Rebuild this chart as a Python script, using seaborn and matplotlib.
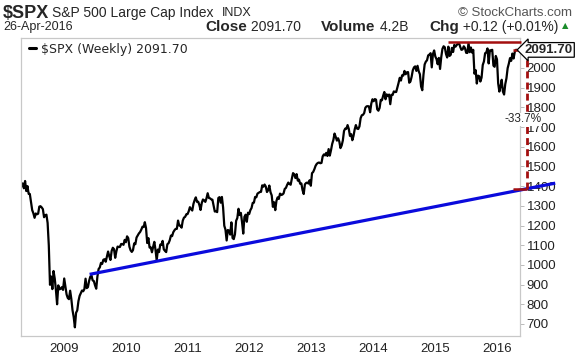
import pandas as pd
import seaborn as sns
import matplotlib.pyplot as plt
import matplotlib.dates as mdates
import matplotlib.transforms as mtransforms

# -----------------------------
# Data: $SPX weekly closes, Apr-2008 .. 26-Apr-2016
# -----------------------------
spx_2008 = [1398, 1414, 1389, 1426, 1375, 1400, 1361, 1360, 1318, 1278, 1262, 1239,
            1261, 1257, 1260, 1296, 1298, 1292, 1283, 1242, 1252, 1255, 1213, 1099,
            899, 941, 877, 969, 931, 873, 800, 896, 876, 879, 887, 873]
spx_2009 = [931, 890, 850, 832, 826, 869, 827, 770, 735, 683, 757, 769, 816, 843,
            857, 870, 866, 877, 930, 882, 887, 919, 940, 946, 921, 918, 896, 879,
            941, 979, 987, 1010, 1005, 1026, 1029, 1016, 1042, 1068, 1044, 1025,
            1071, 1087, 1080, 1036, 1069, 1093, 1091, 1091, 1106, 1106, 1102, 1127]
spx_2010 = [1115, 1145, 1136, 1092, 1074, 1066, 1075, 1109, 1105, 1139, 1150, 1160,
            1167, 1179, 1194, 1192, 1217, 1187, 1111, 1136, 1088, 1089, 1064, 1092,
            1117, 1076, 1022, 1078, 1065, 1103, 1102, 1122, 1079, 1071, 1065, 1105,
            1110, 1125, 1149, 1146, 1166, 1176, 1183, 1183, 1225, 1200, 1199, 1189,
            1225, 1240, 1244, 1257, 1258]
spx_2011 = [1272, 1293, 1283, 1276, 1310, 1329, 1343, 1320, 1321, 1304, 1279, 1314,
            1332, 1328, 1320, 1338, 1364, 1340, 1338, 1333, 1331, 1300, 1271, 1272,
            1268, 1340, 1344, 1316, 1345, 1292, 1199, 1179, 1124, 1177, 1174, 1154,
            1216, 1136, 1131, 1155, 1224, 1238, 1285, 1253, 1264, 1216, 1159, 1244,
            1255, 1219, 1265, 1258]
spx_2012 = [1278, 1289, 1315, 1316, 1345, 1343, 1362, 1366, 1370, 1371, 1404, 1397,
            1408, 1398, 1370, 1379, 1403, 1369, 1353, 1295, 1318, 1278, 1325, 1343,
            1335, 1362, 1355, 1357, 1363, 1386, 1391, 1406, 1418, 1411, 1407, 1438,
            1466, 1460, 1441, 1461, 1428, 1433, 1412, 1414, 1380, 1360, 1409, 1416,
            1418, 1413, 1430, 1402]
spx_2013 = [1466, 1472, 1486, 1503, 1513, 1518, 1520, 1516, 1518, 1551, 1561, 1556,
            1569, 1553, 1588, 1555, 1582, 1614, 1634, 1667, 1650, 1631, 1643, 1627,
            1593, 1606, 1632, 1680, 1692, 1691, 1710, 1691, 1655, 1664, 1633, 1655,
            1688, 1710, 1692, 1690, 1703, 1745, 1760, 1762, 1771, 1798, 1805, 1806,
            1805, 1775, 1819, 1841]
spx_2014 = [1831, 1842, 1839, 1790, 1783, 1797, 1838, 1836, 1859, 1878, 1841, 1866,
            1857, 1865, 1816, 1864, 1863, 1881, 1878, 1878, 1900, 1924, 1950, 1936,
            1963, 1961, 1985, 1968, 1978, 1979, 1925, 1931, 1955, 1988, 2003, 2008,
            1985, 2011, 1983, 1968, 1906, 1887, 1965, 2018, 2032, 2039, 2064, 2068,
            2075, 2003, 2071, 2089]
spx_2015 = [2058, 2045, 2019, 2051, 1995, 2055, 2097, 2110, 2105, 2071, 2053, 2108,
            2061, 2067, 2102, 2081, 2117, 2108, 2116, 2123, 2126, 2107, 2092, 2094,
            2110, 2101, 2077, 2076, 2127, 2080, 2104, 2078, 2092, 1971, 1989, 1921,
            1961, 1958, 1931, 1951, 2015, 2033, 2075, 2079, 2099, 2023, 2089, 2090,
            2092, 2012, 2006, 2061]
spx_2016 = [2044, 1922, 1880, 1907, 1940, 1880, 1865, 1918, 1948, 1999, 2022, 2050,
            2036, 2073, 2048, 2081, 2092, 2091.70]

LAST_DATE = "2016-04-29"
LAST_CLOSE = 2091.70
PEAK_LEVEL = 2132
TREND_LEVEL = 1387
DROP_LABEL = "-33.7%"

# blue support trendline (start / end)
trend_dates = ["2009-06-01", "2016-12-10"]
trend_values = [952, 1415]

year_ticks = [2009, 2010, 2011, 2012, 2013, 2014, 2015, 2016]
price_ticks = list(range(700, 2001, 100))

closes = spx_2008 + spx_2009 + spx_2010 + spx_2011 + spx_2012 + spx_2013 + spx_2014 + spx_2015 + spx_2016
df = pd.DataFrame({
    "date": pd.date_range(end=LAST_DATE, periods=len(closes), freq="W-FRI"),
    "close": closes,
})

# -----------------------------
# Plot
# -----------------------------
sns.set_style("white")
plt.rcParams["font.family"] = ["Liberation Sans", "DejaVu Sans"]

fig = plt.figure(figsize=(5.76, 3.56), dpi=100)
ax = fig.add_axes([0.0365, 0.0562, 0.866, 0.837])

sns.lineplot(data=df, x="date", y="close", ax=ax, color="black", lw=1.6,
             label=f"$SPX (Weekly) {LAST_CLOSE:.2f}")

ax.plot(pd.to_datetime(trend_dates), trend_values, color="#0b0bdc", lw=2.3,
        clip_on=False, solid_capstyle="butt", zorder=4)

red = "#a30f0f"
ax.hlines(PEAK_LEVEL, pd.Timestamp("2015-03-18"), pd.Timestamp("2016-05-22"),
          color=red, lw=1.8, clip_on=False, zorder=5)
ax.hlines(LAST_CLOSE, pd.Timestamp("2016-04-05"), pd.Timestamp("2016-10-20"),
          color=red, lw=1.8, clip_on=False, zorder=5)
ax.hlines(TREND_LEVEL, pd.Timestamp("2016-04-05"), pd.Timestamp("2016-06-28"),
          color=red, lw=1.8, clip_on=False, zorder=5)
ax.vlines(pd.Timestamp("2016-06-24"), TREND_LEVEL, LAST_CLOSE, color=red, lw=2,
          linestyles=(0, (2.5, 1.5)), clip_on=False, zorder=5)
ax.text(pd.Timestamp("2016-06-01"), 1740, DROP_LABEL, fontsize=8.5, ha="center",
        va="center", clip_on=False, zorder=10,
        bbox=dict(boxstyle="square,pad=0.05", fc="white", ec="none"))

trans = mtransforms.blended_transform_factory(ax.transAxes, ax.transData)
ax.annotate(f"{LAST_CLOSE:.2f}", xy=(1.0, LAST_CLOSE), xycoords=trans,
            xytext=(5, 0), textcoords="offset pixels", fontsize=9.5,
            fontweight="bold", ha="left", va="center", zorder=10,
            annotation_clip=False,
            bbox=dict(boxstyle="larrow,pad=0.1", fc="white", ec="black", lw=0.9))

# axes styling
ax.set_xlim(pd.Timestamp("2008-04-22"), pd.Timestamp("2016-05-15"))
ax.set_ylim(639, 2152)
ax.yaxis.tick_right()
ax.set_yticks(price_ticks)
ax.set_yticklabels([str(v) for v in price_ticks])
ax.set_xticks([mdates.date2num(pd.Timestamp(f"{y}-01-01")) for y in year_ticks])
ax.set_xticklabels([str(y) for y in year_ticks])
ax.tick_params(axis="both", labelsize=9.5, length=3, width=0.6, pad=2,
               colors="#b0b0b0", labelcolor="#222222")
ax.set_xlabel("")
ax.set_ylabel("")
for s in ax.spines.values():
    s.set_color("#c8c8c8")
    s.set_linewidth(0.9)

leg = ax.legend(loc="upper left", bbox_to_anchor=(0.0, 1.01), frameon=False,
                handlelength=0.6, handletextpad=0.4, borderaxespad=0.2,
                prop={"family": "DejaVu Sans", "size": 9})
for line in leg.get_lines():
    line.set_linewidth(2.2)

# header
fig.text(3 / 576, 1 - 13 / 356, "$SPX", fontsize=13, fontweight="bold", va="center")
fig.text(52 / 576, 1 - 13 / 356, "S&P 500 Large Cap Index", fontsize=10, va="center")
fig.text(222 / 576, 1 - 13 / 356, "INDX", fontsize=9, va="center")
fig.text(572 / 576, 1 - 13 / 356, "© StockCharts.com", fontsize=9.5, va="center",
         ha="right", color="#555555")
fig.text(3 / 576, 1 - 27 / 356, "26-Apr-2016", fontsize=9, va="center")

# quote line: three groups spread between x=205 and x=560 px
groups = [[("Close", True), (" 2091.70", False)],
          [("Volume", True), (" 4.2B", False)],
          [("Chg", True), (" +0.12 (+0.01%)", False)]]
renderer = fig.canvas.get_renderer()
widths = []
for g in groups:
    w = 0
    for txt, bold in g:
        t = fig.text(0, 0, txt, fontsize=11 if bold else 10,
                     fontweight="bold" if bold else "normal")
        w += t.get_window_extent(renderer=renderer).width
        t.remove()
    widths.append(w)
gap = (558 - 205 - sum(widths)) / (len(groups) - 1)
x = 205
for g, w in zip(groups, widths):
    xx = x
    for txt, bold in g:
        t = fig.text(xx / 576, 1 - 27 / 356, txt, fontsize=11 if bold else 10,
                     fontweight="bold" if bold else "normal", va="center")
        xx += t.get_window_extent(renderer=renderer).width
    x += w + gap
fig.text(562 / 576, 1 - 26 / 356, "▲", fontsize=6, va="center", color="#1a8c2a",
         family=["DejaVu Sans"])

fig.savefig("out.png", dpi=100)
